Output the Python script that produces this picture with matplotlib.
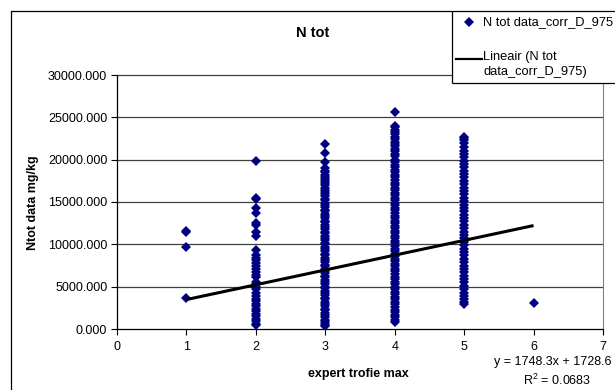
import matplotlib
matplotlib.use("Agg")
import matplotlib.pyplot as plt
from matplotlib.lines import Line2D

plt.rcParams['font.family'] = ['Liberation Sans', 'DejaVu Sans']
plt.rcParams['mathtext.fontset'] = 'custom'
plt.rcParams['mathtext.rm'] = 'Liberation Sans'
plt.rcParams['mathtext.it'] = 'Liberation Sans:italic'

# ---- data -------------------------------------------------------------
title = "N tot"
x_label = "expert trofie max"
y_label = "Ntot data mg/kg"
series_label = "N tot data_corr_D_975"
trend_label = "Lineair (N tot\ndata_corr_D_975)"

# N tot values (mg/kg) per expert trophy class
n_tot_1 = [11600, 11450, 9700, 3700]
n_tot_2 = [19800, 15500, 15300, 14300, 13700, 12500, 12300, 11500, 11000,
           9300, 8700, 8400, 8100, 7800, 7400, 7100, 6700, 6400, 6200,
           5600, 5300, 5000, 4700, 4300, 3900, 3600, 3300, 3000, 2700,
           2400, 2100, 1800, 1500, 1200, 900, 600, 500]
n_tot_3 = [21800, 20800, 19700, 19000, 18700, 18500, 18200, 18000, 17700,
           17500, 17200, 17000, 16700, 16400, 16200, 15900, 15700, 15400,
           15200, 14900, 14600, 14400, 14100, 13900, 13600, 13300, 13100,
           12800, 12600, 12300, 12000, 11800, 11500, 11300, 11000, 10700,
           10500, 10200, 10000, 9700, 9400, 9200, 8900, 8700, 8400, 8100,
           7900, 7600, 7400, 7100, 6800, 6600, 6300, 6100, 5800, 5500,
           5300, 5000, 4800, 4500, 4200, 4000, 3700, 3500, 3200, 2900,
           2700, 2400, 2200, 1900, 1600, 1400, 1100, 900, 700, 500, 300]
n_tot_4 = [25600, 24000, 23800, 23500, 23300, 23000, 22700, 22400, 22100,
           21900, 21600, 21300, 21000, 20700, 20400, 20000, 19700, 19400,
           19100, 18800, 18500, 18200, 17900, 17600, 17300, 17000, 16700,
           16400, 16100, 15800, 15500, 15200, 14900, 14600, 14300, 14000,
           13700, 13400, 13100, 12800, 12500, 12200, 11900, 11600, 11300,
           11000, 10700, 10400, 10100, 9800, 9500, 9200, 8900, 8600, 8300,
           8000, 7700, 7400, 7100, 6800, 6500, 6200, 5900, 5600, 5300,
           5000, 4700, 4400, 4100, 3800, 3500, 3200, 2900, 2600, 2300,
           2000, 1700, 1400, 1100, 800]
n_tot_5 = [22700, 22500, 22300, 22000, 21500, 21000, 20700, 20300, 19900,
           19500, 19100, 18700, 18300, 17900, 17500, 17100, 16700, 16300,
           15900, 15500, 15100, 14700, 14300, 13900, 13500, 13100, 12700,
           12300, 11900, 11500, 11100, 10700, 10300, 9900, 9500, 9100,
           8700, 8300, 7900, 7500, 7100, 6700, 6300, 5900, 5500, 5100,
           4700, 4300, 3900, 3500, 3200, 2900]
n_tot_6 = [3100]

classes = [1, 2, 3, 4, 5, 6]
groups = [n_tot_1, n_tot_2, n_tot_3, n_tot_4, n_tot_5, n_tot_6]

# linear trend: y = slope * x + intercept
slope = 1748.3
intercept = 1728.6
r_squared = 0.0683
trend_x = [1, 6]

x_ticks = [0, 1, 2, 3, 4, 5, 6, 7]
y_ticks = [0, 5000, 10000, 15000, 20000, 25000, 30000]

# ---- figure -----------------------------------------------------------
W, H = 615, 390
fig = plt.figure(figsize=(W / 100, H / 100), dpi=100)


def fx(px):
    return px / W


def fy(py):
    return 1 - py / H


def fig_line(xp, yp, **kw):
    fig.add_artist(Line2D([fx(v) for v in xp], [fy(v) for v in yp],
                          transform=fig.transFigure, **kw))


navy = '#000080'
grid_color = '#404040'
marker_size = 5.2
ax = fig.add_axes([fx(117), fy(329), fx(603) - fx(117), fy(75) - fy(329)])

xs, ys = [], []
for c, vals in zip(classes, groups):
    xs.extend([c] * len(vals))
    ys.extend(vals)
ax.plot(xs, ys, linestyle='none', marker='D', markersize=marker_size,
        color=navy, markeredgewidth=0, zorder=3)

trend_y = [slope * v + intercept for v in trend_x]
ax.plot(trend_x, trend_y, color='black', linewidth=2.2, zorder=4,
        solid_capstyle='butt')

ax.set_xlim(0, 7)
ax.set_ylim(0, 30000)
ax.set_xticks(x_ticks)
ax.set_yticks(y_ticks)
ax.set_yticklabels([f"{v:.3f}" for v in y_ticks])
ax.tick_params(axis='both', direction='out', length=4, width=0.8,
               labelsize=9, colors='black', pad=3)
ax.tick_params(axis='x', pad=5)

# horizontal gridlines; the top one stops where the legend box begins
legend_left = (452 - 117) / (603 - 117)
for v in y_ticks[1:-1]:
    ax.axhline(v, color=grid_color, linewidth=0.9, zorder=1)
ax.axhline(y_ticks[-1], xmax=legend_left, color=grid_color, linewidth=0.9,
           zorder=1, clip_on=False)

for side in ('top',):
    ax.spines[side].set_visible(False)
ax.spines['right'].set_bounds(0, 30000 * (329 - 83) / (329 - 75))
ax.spines['right'].set_color('#808080')
ax.spines['right'].set_linewidth(0.8)
for side in ('left', 'bottom'):
    ax.spines[side].set_linewidth(0.9)

# axis titles and chart title
fig.text(fx(313), fy(33), title, ha='center', va='center',
         fontsize=10.5, fontweight='bold')
fig.text(fx(358), fy(374), x_label, ha='center', va='center',
         fontsize=9, fontweight='bold')
fig.text(fx(33), fy(203), y_label, ha='center', va='center',
         rotation=90, fontsize=9, fontweight='bold')

# trendline equation
fig.text(fx(612), fy(362), f"y = {slope}x + {intercept}", ha='right',
         va='center', fontsize=9)
fig.text(fx(557), fy(380), f"R$^2$ = {r_squared}", ha='center',
         va='center', fontsize=9)

# chart border (open to the right and bottom)
fig_line([10.5, 10.5, 615], [390, 10.5, 10.5], color='black',
         linewidth=0.9, solid_capstyle='butt')

# legend box, running off the right edge
fig_line([451.5, 451.5], [10.5, 82.5], color='black', linewidth=0.9,
         zorder=6, solid_capstyle='butt')
fig_line([451.5, 615], [82.5, 82.5], color='black', linewidth=0.9,
         zorder=6, solid_capstyle='butt')
fig.add_artist(Line2D([fx(469)], [fy(22)], marker='D',
                      markersize=marker_size, color=navy,
                      markeredgewidth=0, linestyle='none',
                      transform=fig.transFigure, zorder=6))
fig.text(fx(483), fy(22), series_label, ha='left', va='center',
         fontsize=9.3, zorder=6)
fig_line([456, 482], [59, 59], color='black', linewidth=1.6, zorder=6)
fig.text(fx(483), fy(51), trend_label, ha='left', va='top',
         fontsize=9.3, linespacing=1.3, zorder=6)

fig.savefig("out.png", dpi=100)
